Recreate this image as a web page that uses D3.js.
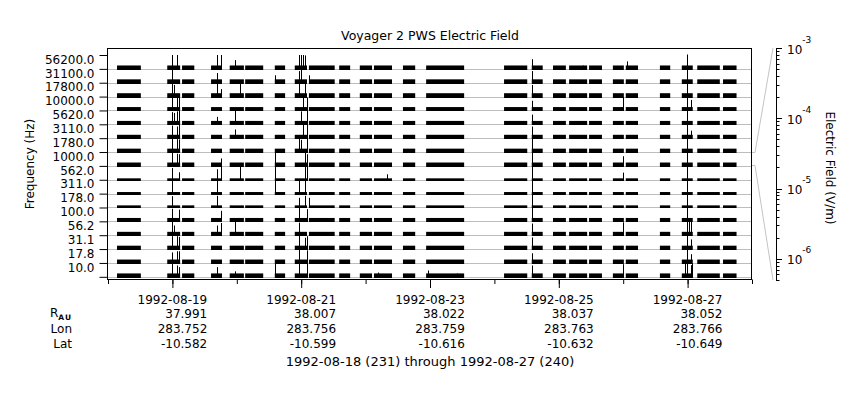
<!DOCTYPE html>
<html><head><meta charset="utf-8">
<script src="https://cdn.jsdelivr.net/npm/d3@7"></script>
<style>
body{margin:0;background:#fff}
svg{font-family:"DejaVu Sans",Verdana,sans-serif;}
</style>
</head><body>
<svg id="c" width="860" height="400"></svg>
<script>
// ---------------- data ----------------
const freqLabels = ["56200.0","31100.0","17800.0","10000.0","5620.0","3110.0","1780.0","1000.0",
                    "562.0","311.0","178.0","100.0","56.2","31.1","17.8","10.0"];
const freqs = [56200,31100,17800,10000,5620,3110,1780,1000,562,311,178,100,56.2,31.1,17.8,10];
// upper level of the background noise per channel (V/m)
const noiseTop = [3.2e-6,3.2e-6,3.2e-6,3.2e-6,3.2e-6,3.2e-6,3.2e-6,3.2e-6,
                  1.1e-6,1.2e-6,1.6e-6,3.2e-6,3.2e-6,3.2e-6,3.2e-6,3.2e-6];
// data coverage intervals, day of August 1992 (fractional, UT)
const segments = [[18.14,18.51],[18.92,19.12],[19.15,19.34],[19.60,19.77],[19.89,20.11],[20.13,20.41],
  [20.59,20.75],[20.90,21.09],[21.12,21.52],[21.59,21.76],[21.91,22.10],[22.13,22.41],[22.58,22.77],
  [22.94,23.53],[24.15,24.51],[24.58,24.75],[24.91,25.11],[25.16,25.44],[25.47,25.67],[25.84,26.01],
  [26.04,26.23],[26.57,26.73],[26.91,27.08],[27.15,27.50],[27.55,27.76]];
// impulsive events: [day of August, channel frequency (Hz), peak field (V/m)]
const spikes = [
  [18.99,56200,1e-3],[18.99,31100,1e-3],[18.99,17800,6e-4],[18.99,10000,1e-3],[18.99,5620,4e-4],[18.99,3110,5e-4],
  [18.99,1780,1e-3],[18.99,1000,1e-3],[18.99,562,3e-4],[18.99,311,6e-4],[18.99,178,2.5e-4],[18.99,100,5e-4],
  [18.99,56.2,8e-4],[18.99,31.1,6e-4],[18.99,17.8,1.6e-4],[18.99,10,8e-4],
  [19.025,17800,3e-4],[19.025,5620,2.5e-4],[19.025,56.2,1e-4],
  [19.067,56200,1e-3],[19.067,10000,5e-4],[19.067,5620,6e-4],[19.067,3110,3e-4],[19.067,1780,6e-4],[19.067,1000,4e-4],
  [19.067,31.1,6e-4],[19.067,17.8,3e-4],[19.067,10,2.5e-4],
  [19.10,10000,2.5e-3],[19.10,5620,1e-3],[19.10,3110,1e-3],[19.10,1780,5e-4],[19.10,1000,3e-4],[19.10,562,3e-5],
  [19.10,100,3e-4],[19.10,31.1,4e-4],[19.10,17.8,3e-4],[19.10,10,1e-4],
  [19.697,56200,1e-3],[19.697,31100,1e-4],[19.697,17800,8e-4],[19.697,5620,3e-5],[19.697,562,1.6e-4],[19.697,311,1.6e-3],
  [19.697,178,3e-4],[19.697,56.2,1e-4],[19.697,10,1e-4],
  [19.75,56200,1e-3],[19.75,17800,3e-5],[19.75,1000,3e-5],[19.75,562,1e-3],[19.75,100,1.6e-4],[19.75,56.2,4e-4],
  [19.97,56200,6e-5],[19.97,5620,1e-3],[19.97,3110,6e-5],[19.97,56.2,8e-4],[19.97,10,1e-5],
  [20.05,17800,8e-4],[20.05,562,1e-3],
  [20.593,31100,3e-5],[20.593,1000,1e-3],[20.593,562,1e-3],[20.593,311,1e-3],[20.593,10,6e-4],
  [20.966,56200,1e-3],[20.966,31100,3e-4],[20.966,17800,1e-3],[20.966,1780,1e-3],[20.966,311,1e-3],[20.966,178,1e-4],
  [20.966,100,1e-3],[20.966,56.2,5e-4],[20.966,31.1,1e-3],[20.966,17.8,6e-4],[20.966,10,1e-3],
  [20.99,56200,1e-3],[20.99,31100,1e-3],[20.99,5620,6e-4],[20.99,1780,4e-4],
  [21.03,56200,1e-3],[21.03,10000,1e-3],[21.03,3110,1e-3],
  [21.06,56200,8e-4],[21.06,17800,1e-3],[21.06,1000,6e-4],[21.06,562,1.6e-3],[21.06,311,1.6e-3],[21.06,178,3e-4],[21.06,31.1,2.5e-4],
  [21.09,10000,6e-4],[21.09,5620,1e-3],[21.09,3110,1e-3],[21.09,1780,1e-3],[21.09,1000,3e-4],[21.09,562,6e-4],
  [21.09,100,4e-4],[21.09,31.1,6e-4],[21.09,17.8,5e-4],[21.09,10,6e-4],
  [21.12,31100,3e-5],[21.12,178,1e-4],
  [22.19,10,5e-6],[22.33,562,1e-5],[22.97,10,1.6e-5],[23.42,10,3e-6],
  [24.589,56200,1e-4],[24.589,31100,3e-4],[24.589,17800,3e-4],[24.589,10000,1e-4],[24.589,5620,1e-4],[24.589,3110,3e-4],
  [24.589,1780,1e-3],[24.589,1000,3.2e-3],[24.589,562,3.2e-3],[24.589,311,3.2e-3],[24.589,178,3.2e-3],[24.589,100,1e-3],
  [24.589,56.2,3e-4],[24.589,31.1,3e-4],[24.589,17.8,1e-4],[24.589,10,2.5e-4],
  [25.38,56200,3e-6],
  [25.99,10000,8e-4],[25.99,1000,1e-4],[25.99,562,2.5e-5],[25.99,56.2,6e-4],[25.99,10,5e-4],
  [26.06,56200,3e-5],
  [26.96,10,8e-4],
  [26.986,56200,1.3e-3],[26.986,31100,1e-3],[26.986,17800,1e-3],[26.986,10000,1e-3],[26.986,5620,1e-3],[26.986,3110,1e-3],
  [26.986,1780,1e-3],[26.986,1000,1e-3],[26.986,562,1e-3],[26.986,311,1e-3],[26.986,178,1e-3],[26.986,100,1e-3],
  [26.986,56.2,1e-3],[26.986,31.1,1e-3],[26.986,17.8,1e-3],[26.986,10,1e-3],
  [27.02,56.2,2e-3],
  [27.048,10000,1.6e-4],[27.048,3110,3e-5],[27.048,56.2,1e-3],[27.048,31.1,1e-4],[27.048,17.8,6e-5],[27.048,10,3e-4],
  [27.07,10,8e-4]
];
const dateLabels = ["1992-08-19","1992-08-21","1992-08-23","1992-08-25","1992-08-27"];
const rAU = ["37.991","38.007","38.022","38.037","38.052"];
const lon = ["283.752","283.756","283.759","283.763","283.766"];
const lat = ["-10.582","-10.599","-10.616","-10.632","-10.649"];
const fieldDomain = [5e-7, 1e-3];
const titleText = "Voyager 2 PWS Electric Field";
const footerText = "1992-08-18 (231) through 1992-08-27 (240)";

// ---------------- layout ----------------
const svg = d3.select("#c");
const L = 108, R = 752, T = 48, B = 280;
const toDate = d => new Date(Date.UTC(1992,7,1) + (d-1)*864e5);
const x = d3.scaleUtc().domain([Date.UTC(1992,7,18), Date.UTC(1992,7,28)]).range([L, R]);
const yIdx = d3.scaleLinear().domain([0,16]).range([55, 276.8]);
const chY = i => d3.scaleLog().domain(fieldDomain).range([yIdx(i+1), yIdx(i)]);
const chScales = freqs.map((f,i)=>chY(i));
const eScale = d3.scaleLog().domain(fieldDomain).range([B, T]);

// title
svg.append("text").attr("x",430).attr("y",39.5).attr("text-anchor","middle")
  .style("font-size","12.5px").text(titleText);

// baselines
svg.append("g").selectAll("line").data(freqs).join("line")
  .attr("x1",L).attr("x2",R)
  .attr("y1",(d,i)=>Math.round(yIdx(i+1))+0.5).attr("y2",(d,i)=>Math.round(yIdx(i+1))+0.5)
  .attr("stroke","#bdbdbd").attr("stroke-width",1);

// noise bars
const gBars = svg.append("g");
freqs.forEach((f,i)=>{
  const s = chScales[i];
  const base = Math.round(yIdx(i+1))+1;
  gBars.selectAll(null).data(segments).join("rect")
    .attr("x",d=>x(toDate(d[0]))).attr("width",d=>x(toDate(d[1]))-x(toDate(d[0])))
    .attr("y",s(noiseTop[i])).attr("height",base - s(noiseTop[i]))
    .attr("fill","#000");
});

// spikes
svg.append("g").selectAll("line").data(spikes).join("line")
  .attr("x1",d=>Math.round(x(toDate(d[0])))+0.5).attr("x2",d=>Math.round(x(toDate(d[0])))+0.5)
  .attr("y1",d=>Math.round(yIdx(freqs.indexOf(d[1])+1))+1)
  .attr("y2",d=>chScales[freqs.indexOf(d[1])](d[2]))
  .attr("stroke","#000").attr("stroke-width",1);

// frame
svg.append("rect").attr("x",L-0.5).attr("y",T+0.5).attr("width",R-L).attr("height",B-T-1)
  .attr("fill","none").attr("stroke","#000");

// left axis
const ax = svg.append("g").attr("transform",`translate(${L-0.5},0)`)
  .call(d3.axisLeft(yIdx).tickValues(d3.range(17)).tickFormat(i=>freqLabels[i]||"").tickSize(8).tickPadding(5).tickSizeOuter(0));
ax.select(".domain").remove();
ax.selectAll("text").attr("y",4.3).style("font-size","12px").style("font-family","DejaVu Sans").attr("fill","#000");
ax.selectAll("line").attr("stroke","#000");
svg.append("text").attr("transform","translate(34,164) rotate(-90)").attr("text-anchor","middle")
  .style("font-size","12px").text("Frequency (Hz)");

// bottom axis (daily minor, every 2nd day major)
const bx = svg.append("g").attr("transform",`translate(0,${B-0.5})`)
  .call(d3.axisBottom(x).ticks(d3.utcDay.every(1)).tickSize(4.5).tickFormat("").tickSizeOuter(0));
bx.select(".domain").remove();
const majorDates = dateLabels.map(s=>new Date(s+"T00:00:00Z"));
const bx2 = svg.append("g").attr("transform",`translate(0,${B-0.5})`)
  .call(d3.axisBottom(x).tickValues(majorDates).tickSize(8.5).tickFormat("").tickSizeOuter(0));
bx2.select(".domain").remove();
svg.selectAll(".tick line").attr("stroke","#000");

// ephemeris table
const rows = [dateLabels, rAU, lon, lat];
const rowY = [303.5, 318, 333.3, 348.3];
const gT = svg.append("g").style("font-size","12px");
const probe = gT.append("text").text(dateLabels[0]);
const halfW = probe.node().getComputedTextLength()/2;
probe.remove();
rows.forEach((arr,r)=>{
  gT.selectAll(null).data(arr).join("text")
    .attr("x",(d,i)=>x(majorDates[i])+halfW).attr("y",rowY[r])
    .attr("text-anchor","end").text(d=>d);
});
const rl = gT.append("text").attr("x",72).attr("y",rowY[1]-1).attr("text-anchor","end");
rl.append("tspan").text("R");
rl.append("tspan").attr("dy",2.5).style("font-size","7.5px").style("font-weight","bold").style("letter-spacing","1px").text("AU");
gT.append("text").attr("x",72).attr("y",rowY[2]).attr("text-anchor","end").text("Lon");
gT.append("text").attr("x",72).attr("y",rowY[3]).attr("text-anchor","end").text("Lat");
gT.append("text").attr("x",430).attr("y",365.5).attr("text-anchor","middle").style("font-size","13px").text(footerText);

// right axis: electric field
const AX = 776;
svg.append("line").attr("x1",AX+0.5).attr("x2",AX+0.5).attr("y1",T).attr("y2",B).attr("stroke","#000");
const eTicks = eScale.ticks();
const isMajor = v => Math.abs(Math.log10(v) - Math.round(Math.log10(v))) < 1e-6;
svg.append("g").selectAll("line").data(eTicks).join("line")
  .attr("x1",AX).attr("x2",d=>AX + (isMajor(d)?6:3.5))
  .attr("y1",d=>Math.round(eScale(d))+0.5).attr("y2",d=>Math.round(eScale(d))+0.5)
  .attr("stroke","#000");
const lab = svg.append("g").selectAll("text").data(eTicks.filter(isMajor)).join("text")
  .attr("x",787).attr("y",d=>eScale(d)+5.5).style("font-size","12px");
lab.append("tspan").text("10");
lab.append("tspan").attr("dy",-11).style("font-size","9px").text(d=>String(Math.round(Math.log10(d))));
svg.append("text").attr("transform","translate(826,168) rotate(90)").attr("text-anchor","middle")
  .style("font-size","12px").text("Electric Field (V/m)");

// connector lines from reference channel (1000 Hz band) to the field axis
const refI = freqs.indexOf(1000);
const cTop = Math.round(yIdx(refI))+0.5, cBot = Math.round(yIdx(refI+1))-0.5;
const conn = [[[R,cTop],[755,cTop],[773,eScale(fieldDomain[1])]],[[R,cBot],[755,cBot],[773,eScale(fieldDomain[0])]]];
svg.append("g").selectAll("path").data(conn).join("path")
  .attr("d",d3.line()).attr("fill","none").attr("stroke","#c4c4c4").attr("stroke-width",1);
</script>
</body></html>
